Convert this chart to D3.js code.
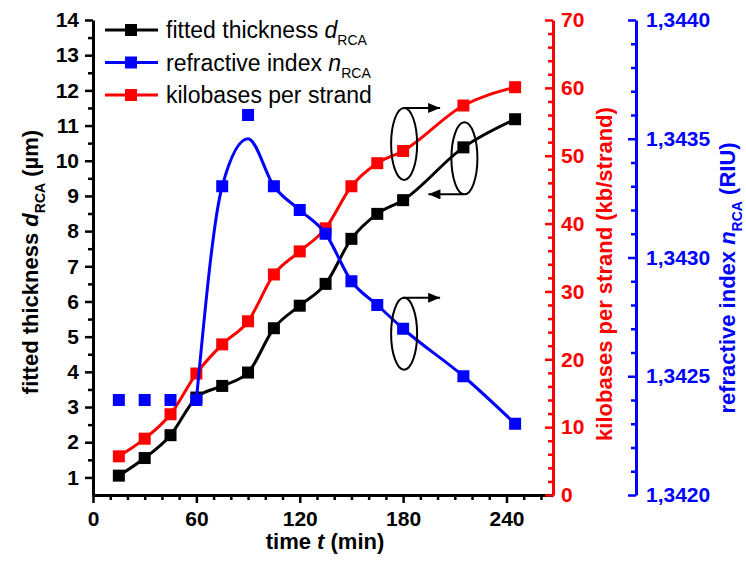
<html>
<head>
<meta charset="utf-8">
<script src="https://d3js.org/d3.v7.min.js"></script>
<style>
  body { margin:0; background:#fff; }
  svg text { font-family: "Liberation Sans", Arial, sans-serif; }
  .tick text { font-weight:bold; font-size:21px; }
  .line { fill:none; stroke-width:3px; }
</style>
</head>
<body>
<script>
// data
var times      = [15, 30, 45, 60, 75, 90, 105, 120, 135, 150, 165, 180, 215, 245];
var thickness  = [1.05, 1.55, 2.2, 3.27, 3.6, 3.98, 5.24, 5.88, 6.5, 7.78, 8.49, 8.88, 10.38, 11.18];
var kilobases  = [5.7, 8.3, 11.9, 17.9, 22.2, 25.6, 32.5, 35.9, 39.3, 45.5, 48.9, 50.7, 57.4, 60.1];
var refIndex   = [1.3424, 1.3424, 1.3424, 1.3424, 1.3433, 1.3436, 1.3433, 1.3432, 1.3431, 1.3429, 1.3428, 1.3427, 1.3425, 1.3423];
// fitted curve for the refractive index (starts at 60 min)
var fitTimes   = [60, 75, 90, 105, 120, 135, 150, 165, 180, 215, 245];
var fitIndex   = [1.3424, 1.3433, 1.3435, 1.3433, 1.3432, 1.3431, 1.3429, 1.3428, 1.3427, 1.3425, 1.3423];

var xTicks     = [0, 60, 120, 180, 240];
var leftTicks  = d3.range(1, 15);
var redTicks   = d3.range(0, 71, 10);
var blueTicks  = [1.3420, 1.3425, 1.3430, 1.3435, 1.3440];

var legendNames = [["fitted thickness ", "d"], ["refractive index ", "n"], ["kilobases per strand", ""]];
var colors = {thick:"#000000", index:"#0000ff", kb:"#ff0000"};

var width = 746, height = 561;
var plotL = 93, plotR = 553, plotT = 20, plotB = 495, blueX = 636;

var x  = d3.scaleLinear().domain([0, 267]).range([plotL, plotR]);
var yL = d3.scaleLinear().domain([0.5, 14]).range([plotB, plotT]);
var yR = d3.scaleLinear().domain([0, 70]).range([plotB, plotT]);
var yB = d3.scaleLinear().domain([1.3420, 1.3440]).range([plotB, plotT]);

var svg = d3.select("body").append("svg")
  .attr("width", width).attr("height", height);

svg.append("defs").append("marker")
  .attr("id", "arrow")
  .attr("viewBox", "0 0 12 10")
  .attr("refX", 12).attr("refY", 5)
  .attr("markerWidth", 14).attr("markerHeight", 10)
  .attr("markerUnits", "userSpaceOnUse")
  .attr("orient", "auto")
  .append("path").attr("d", "M0,0L12,5L0,10Z").attr("fill", "#000");

function styleAxis(g, color) {
  g.select(".domain").attr("stroke", color).attr("stroke-width", 3);
  g.selectAll(".tick line").attr("stroke", color).attr("stroke-width", 2.5);
  g.selectAll(".tick text").attr("fill", color);
}

// minor ticks
function minor(axisFn, scale, values, pos, color, size) {
  var g = svg.append("g").attr("transform", pos)
    .call(axisFn(scale).tickValues(values).tickSize(size).tickFormat(""));
  g.select(".domain").remove();
  g.selectAll(".tick line").attr("stroke", color).attr("stroke-width", 2.5);
}

minor(d3.axisLeft, yL, d3.range(1.5, 14, 1), "translate(" + plotL + ",0)", "#000", 5);
minor(d3.axisBottom, x, d3.range(10, 267, 10).filter(function(d){ return d % 60 != 0; }), "translate(0," + plotB + ")", "#000", 5);
minor(d3.axisRight, yR, d3.range(2, 70, 2).filter(function(d){ return d % 10 != 0; }), "translate(" + plotR + ",0)", "#ff0000", -5);
minor(d3.axisRight, yB, d3.range(1, 20).filter(function(d){ return d % 5 != 0; }).map(function(d){ return 1.3420 + d * 0.0001; }), "translate(" + blueX + ",0)", "#0000ff", -5);

var gx = svg.append("g").attr("transform", "translate(0," + plotB + ")")
  .call(d3.axisBottom(x).tickValues(xTicks).tickSize(8).tickSizeOuter(0).tickPadding(8));
styleAxis(gx, "#000");

var gl = svg.append("g").attr("transform", "translate(" + plotL + ",0)")
  .call(d3.axisLeft(yL).tickValues(leftTicks).tickSize(8).tickSizeOuter(0).tickPadding(6));
styleAxis(gl, "#000");

var gr = svg.append("g").attr("transform", "translate(" + plotR + ",0)")
  .call(d3.axisRight(yR).tickValues(redTicks).tickSize(-8).tickSizeOuter(0).tickPadding(8));
styleAxis(gr, "#ff0000");

var gb = svg.append("g").attr("transform", "translate(" + blueX + ",0)")
  .call(d3.axisRight(yB).tickValues(blueTicks).tickSize(-8).tickSizeOuter(0).tickPadding(10)
    .tickFormat(function(d){ return d3.format(".4f")(d).replace(".", ","); }));
styleAxis(gb, "#0000ff");

// series
function series(xs, ys, yScale, color, withLine, withPts) {
  var pts = xs.map(function(t, i){ return [x(t), yScale(ys[i])]; });
  if (withLine) {
    svg.append("path").datum(pts).attr("class", "line")
      .attr("stroke", color)
      .attr("d", d3.line().curve(d3.curveMonotoneX));
  }
  if (withPts) {
    svg.append("g").selectAll("rect").data(pts).enter().append("rect")
      .attr("x", function(d){ return d[0] - 6; })
      .attr("y", function(d){ return d[1] - 6; })
      .attr("width", 12).attr("height", 12)
      .attr("fill", color);
  }
}

series(times, thickness, yL, colors.thick, true, true);
series(times, kilobases, yR, colors.kb, true, true);
series(fitTimes, fitIndex, yB, colors.index, true, false);
series(times, refIndex, yB, colors.index, false, true);

// ellipses with arrows
var notes = [
  {t:180, v:kilobases[11], scale:yR, dy:-7, dir:1},
  {t:215, v:thickness[12], scale:yL, dy:11, dir:-1},
  {t:180, v:refIndex[11], scale:yB, dy:5, dir:1}
];
notes.forEach(function(n){
  var cx = x(n.t) + 1, cy = n.scale(n.v) + n.dy, rx = 13, ry = 36;
  svg.append("ellipse").attr("cx", cx).attr("cy", cy).attr("rx", rx).attr("ry", ry)
    .attr("fill", "none").attr("stroke", "#000").attr("stroke-width", 2);
  var ay = n.dir > 0 ? cy - ry : cy + ry;
  svg.append("line").attr("x1", cx - 1).attr("y1", ay).attr("x2", cx + n.dir * 36).attr("y2", ay)
    .attr("stroke", "#000").attr("stroke-width", 2).attr("marker-end", "url(#arrow)");
});

// legend
var legendColors = [colors.thick, colors.index, colors.kb];
legendNames.forEach(function(nm, i){
  var ly = 30 + i * 32.5;
  svg.append("line").attr("x1", 105).attr("x2", 158).attr("y1", ly).attr("y2", ly)
    .attr("stroke", legendColors[i]).attr("stroke-width", 3);
  svg.append("rect").attr("x", 125).attr("y", ly - 6).attr("width", 12).attr("height", 12)
    .attr("fill", legendColors[i]);
  var t = svg.append("text").attr("x", 166).attr("y", ly + 8).attr("font-size", 23).attr("fill", "#000");
  t.append("tspan").text(nm[0]);
  if (nm[1]) {
    t.append("tspan").attr("font-style", "italic").text(nm[1]);
    t.append("tspan").attr("font-size", 14).attr("dy", 7).text("RCA");
  }
});

// axis titles
svg.append("text").attr("x", (plotL + plotR) / 2 + 2).attr("y", 549)
  .attr("text-anchor", "middle").attr("font-size", 22).attr("font-weight", "bold")
  .call(function(t){
    t.append("tspan").text("time ");
    t.append("tspan").attr("font-style", "italic").text("t");
    t.append("tspan").text(" (min)");
  });

function vTitle(cx, cy, color, parts) {
  var t = svg.append("text").attr("transform", "translate(" + cx + "," + cy + ") rotate(-90)")
    .attr("text-anchor", "middle").attr("font-size", 22).attr("font-weight", "bold").attr("fill", color);
  parts(t);
}
vTitle(38, 262, "#000", function(t){
  t.append("tspan").text("fitted thickness ");
  t.append("tspan").attr("font-style", "italic").text("d");
  t.append("tspan").attr("font-size", 14).attr("dy", 7).text("RCA");
  t.append("tspan").attr("dy", -7).text(" (\u00b5m)");
});
vTitle(612, 274, "#ff0000", function(t){
  t.append("tspan").text("kilobases per strand (kb/strand)");
});
vTitle(735, 278, "#0000ff", function(t){
  t.append("tspan").text("refractive index ");
  t.append("tspan").attr("font-style", "italic").text("n");
  t.append("tspan").attr("font-size", 14).attr("dy", 7).text("RCA");
  t.append("tspan").attr("dy", -7).text(" (RIU)");
});
</script>
</body>
</html>
